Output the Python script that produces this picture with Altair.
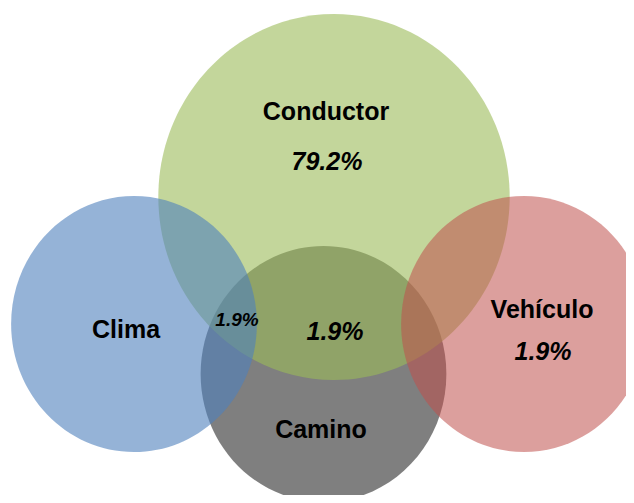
import altair as alt
import pandas as pd

# Circles (drawn bottom to top)
circle_names = ["Camino", "Conductor", "Clima", "Vehículo"]
circle_cx = [323.5, 334, 134, 524]
circle_cy = [374, 197, 324, 324]
circle_ry = [128, 183, 128, 128]
circle_colors = ["#000000", "#9bbb59", "#4f81bd", "#c0504d"]
circle_opacity = [0.5, 0.6, 0.6, 0.55]

# Set names
label_text = ["Conductor", "Clima", "Vehículo", "Camino"]
label_x = [326, 126, 542, 321]
label_y = [112, 330, 310, 430]

# Percentages
pct_text = ["79.2%", "1.9%", "1.9%", "1.9%"]
pct_x = [327, 335, 543, 237]
pct_y = [162, 332, 352, 320]
pct_size = [25, 25, 25, 19]

circles = pd.DataFrame({
    "name": circle_names, "x": circle_cx, "y": circle_cy,
    "size": [(2 * r) ** 2 for r in circle_ry],
    "color": circle_colors, "op": circle_opacity,
    "order": list(range(len(circle_names))),
})
labels = pd.DataFrame({"t": label_text, "x": label_x, "y": label_y})
pcts = pd.DataFrame({"t": pct_text, "x": pct_x, "y": pct_y, "s": pct_size})

# plot area occupies page pixels 8..626 horizontally and 8..495 vertically
xs = alt.Scale(domain=[8, 626], nice=False, zero=False)
ys = alt.Scale(domain=[8, 495], nice=False, zero=False, reverse=True)

ellipse = "M -0.96 0 A 0.96 1 0 1 0 0.96 0 A 0.96 1 0 1 0 -0.96 0 Z"

c = alt.Chart(circles).mark_point(filled=True, shape=ellipse, strokeWidth=0).encode(
    x=alt.X("x:Q", scale=xs, axis=None),
    y=alt.Y("y:Q", scale=ys, axis=None),
    size=alt.Size("size:Q", scale=None, legend=None),
    color=alt.Color("color:N", scale=None, legend=None),
    opacity=alt.Opacity("op:Q", scale=None, legend=None),
    order=alt.Order("order:Q"),
)

t1 = alt.Chart(labels).mark_text(
    font="Liberation Sans", fontWeight="bold", fontSize=25, color="#000000",
    baseline="middle", align="center"
).encode(
    x=alt.X("x:Q", scale=xs, axis=None),
    y=alt.Y("y:Q", scale=ys, axis=None),
    text="t:N",
)

t2 = alt.Chart(pcts).mark_text(
    font="Liberation Sans", fontWeight="bold", fontStyle="italic", color="#000000",
    baseline="middle", align="center"
).encode(
    x=alt.X("x:Q", scale=xs, axis=None),
    y=alt.Y("y:Q", scale=ys, axis=None),
    text="t:N",
    size=alt.Size("s:Q", scale=None, legend=None),
)

chart = alt.layer(c, t1, t2).properties(
    width=618, height=487, padding=0, autosize=alt.AutoSizeParams(type="none"),
    background="#ffffff",
).configure_view(stroke=None)

chart.save("out.html", embed_options={"renderer": "svg", "actions": False})
